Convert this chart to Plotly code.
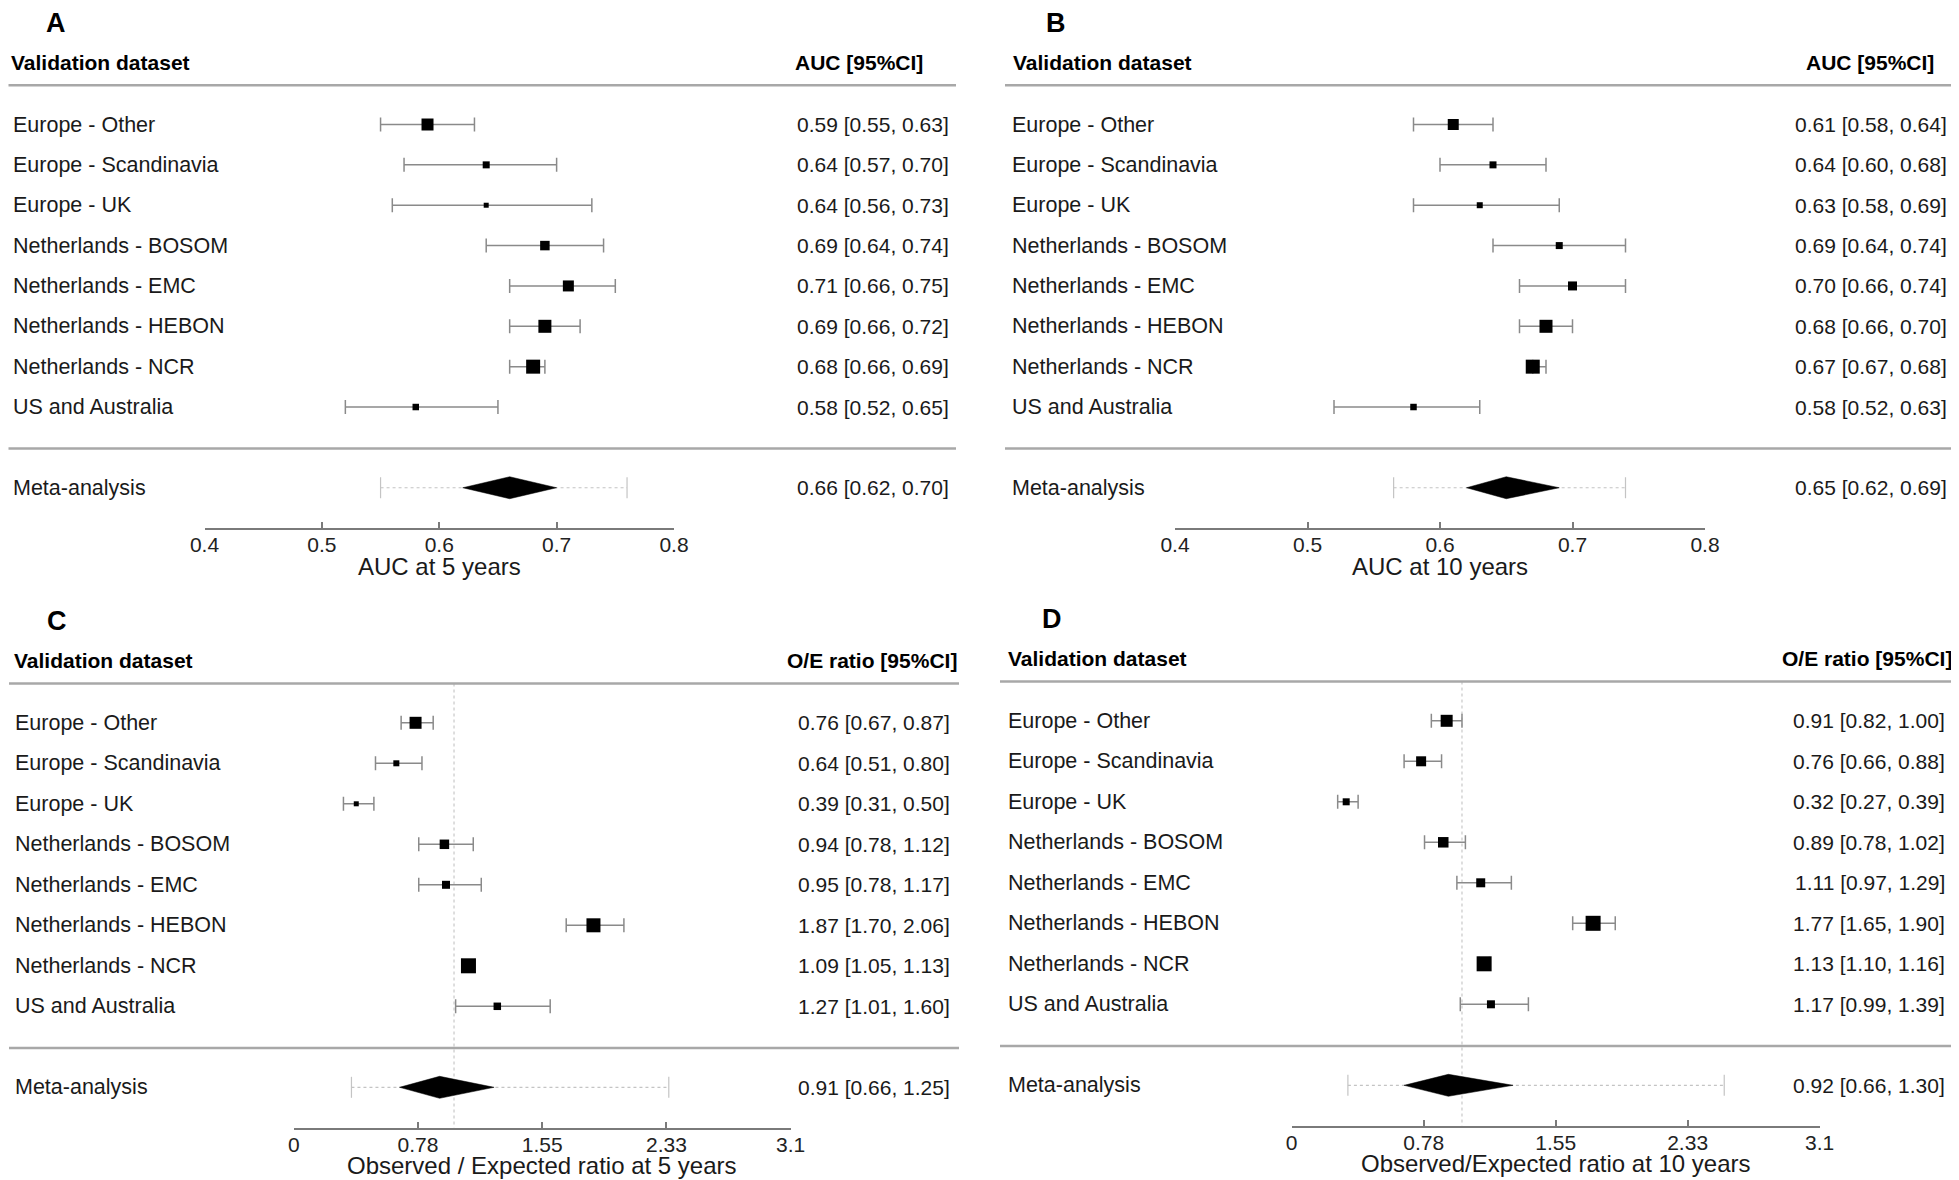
import plotly.graph_objects as go

# ---------------- data ----------------
datasets = ["Europe - Other", "Europe - Scandinavia", "Europe - UK",
            "Netherlands - BOSOM", "Netherlands - EMC", "Netherlands - HEBON",
            "Netherlands - NCR", "US and Australia"]

# A: AUC at 5 years
auc5_est = [0.59, 0.64, 0.64, 0.69, 0.71, 0.69, 0.68, 0.58]
auc5_lo = [0.55, 0.57, 0.56, 0.64, 0.66, 0.66, 0.66, 0.52]
auc5_hi = [0.63, 0.70, 0.73, 0.74, 0.75, 0.72, 0.69, 0.65]
auc5_meta = [0.66, 0.62, 0.70]
auc5_pi = [0.55, 0.76]

# B: AUC at 10 years
auc10_est = [0.61, 0.64, 0.63, 0.69, 0.70, 0.68, 0.67, 0.58]
auc10_lo = [0.58, 0.60, 0.58, 0.64, 0.66, 0.66, 0.67, 0.52]
auc10_hi = [0.64, 0.68, 0.69, 0.74, 0.74, 0.70, 0.68, 0.63]
auc10_meta = [0.65, 0.62, 0.69]
auc10_pi = [0.565, 0.74]

# C: O/E ratio at 5 years
oe5_est = [0.76, 0.64, 0.39, 0.94, 0.95, 1.87, 1.09, 1.27]
oe5_lo = [0.67, 0.51, 0.31, 0.78, 0.78, 1.70, 1.05, 1.01]
oe5_hi = [0.87, 0.80, 0.50, 1.12, 1.17, 2.06, 1.13, 1.60]
oe5_meta = [0.91, 0.66, 1.25]
oe5_pi = [0.36, 2.34]

# D: O/E ratio at 10 years
oe10_est = [0.91, 0.76, 0.32, 0.89, 1.11, 1.77, 1.13, 1.17]
oe10_lo = [0.82, 0.66, 0.27, 0.78, 0.97, 1.65, 1.10, 0.99]
oe10_hi = [1.00, 0.88, 0.39, 1.02, 1.29, 1.90, 1.16, 1.39]
oe10_meta = [0.92, 0.66, 1.30]
oe10_pi = [0.33, 2.54]

auc_ticks = [0.4, 0.5, 0.6, 0.7, 0.8]
auc_ticktext = ["0.4", "0.5", "0.6", "0.7", "0.8"]
oe_ticks = [0, 0.775, 1.55, 2.325, 3.1]
oe_ticktext = ["0", "0.78", "1.55", "2.33", "3.1"]

# square sizes (px), reflecting study weights
sq_A = [12, 7, 5, 9.5, 11, 13, 14, 6.5]
sq_B = [11, 7, 6, 7, 9, 13, 14, 6.5]
sq_C = [12, 6, 5, 9.5, 8, 14, 15, 7.5]
sq_D = [12, 10, 7, 10.5, 9, 15, 15, 8]

# ---------------- layout helpers ----------------
W, H = 1959, 1180
OFF = 8  # page body margin in the browser
FONT = "Liberation Sans, Arial, Helvetica, sans-serif"


def px(x):
    return min(1.0, max(0.0, (x - OFF) / W))


def py(y):
    return min(1.0, max(0.0, 1 - (y - OFF) / H))


panels = [
    dict(letter="A", est=auc5_est, lo=auc5_lo, hi=auc5_hi, meta=auc5_meta, pi=auc5_pi,
         sizes=sq_A, xr=[0.4, 0.8], tv=auc_ticks, tt=auc_ticktext, ax=(204.5, 674),
         y0=124.5, dy=40.36, lab_x=11, head_x=8.5, val_r=951, head_r=925,
         line=(8.5, 956), letter_x=45, title="AUC at 5 years", head_right="AUC [95%CI]", ref=None),
    dict(letter="B", est=auc10_est, lo=auc10_lo, hi=auc10_hi, meta=auc10_meta, pi=auc10_pi,
         sizes=sq_B, xr=[0.4, 0.8], tv=auc_ticks, tt=auc_ticktext, ax=(1175, 1705),
         y0=124.5, dy=40.36, lab_x=1010, head_x=1011, val_r=1949, head_r=1936,
         line=(1005, 1955), letter_x=1045, title="AUC at 10 years", head_right="AUC [95%CI]", ref=None),
    dict(letter="C", est=oe5_est, lo=oe5_lo, hi=oe5_hi, meta=oe5_meta, pi=oe5_pi,
         sizes=sq_C, xr=[0, 3.1], tv=oe_ticks, tt=oe_ticktext, ax=(293.75, 790.6),
         y0=722.8, dy=40.5, lab_x=12.5, head_x=11.5, val_r=952, head_r=958.5,
         line=(9, 959), letter_x=46, title="Observed / Expected ratio at 5 years",
         head_right="O/E ratio [95%CI]", ref=1),
    dict(letter="D", est=oe10_est, lo=oe10_lo, hi=oe10_hi, meta=oe10_meta, pi=oe10_pi,
         sizes=sq_D, xr=[0, 3.1], tv=oe_ticks, tt=oe_ticktext, ax=(1291.7, 1819.6),
         y0=720.8, dy=40.5, lab_x=1006, head_x=1006, val_r=1947, head_r=1954,
         line=(1000, 1954), letter_x=1041, title="Observed/Expected ratio at 10 years",
         head_right="O/E ratio [95%CI]", ref=1),
]

fig = go.Figure()
annotations = []
shapes = []
layout_axes = {}

LINE_GRAY = "#a8a8a8"
CI_GRAY = "#8a8a8a"
PI_GRAY = "#c4c4c4"
TOP_K = -2.8

for i, p in enumerate(panels):
    n = "" if i == 0 else str(i + 1)
    xa, ya = "x" + n, "y" + n
    y_bottom = p["y0"] + 10 * p["dy"]
    y_top = p["y0"] + TOP_K * p["dy"]
    layout_axes["xaxis" + n] = dict(
        domain=[px(p["ax"][0]), px(p["ax"][1])], range=p["xr"], anchor=ya,
        showgrid=False, zeroline=False, showline=True, linecolor="#7a7a7a", linewidth=1.5,
        ticks="inside", ticklen=6, tickwidth=1.5, tickcolor="#7a7a7a",
        tickvals=p["tv"], ticktext=p["tt"], automargin=False, ticklabelstandoff=-3,
        tickfont=dict(family=FONT, size=21, color="#222222"), fixedrange=True,
    )
    layout_axes["yaxis" + n] = dict(
        domain=[py(y_bottom), py(y_top)], range=[10, TOP_K], anchor=xa,
        visible=False, showgrid=False, zeroline=False, fixedrange=True, automargin=False,
    )

    rows = list(range(len(datasets)))
    meta_row = 9

    # prediction interval (dotted) with end caps
    fig.add_trace(go.Scatter(x=p["pi"], y=[meta_row, meta_row], xaxis=xa, yaxis=ya,
                             mode="lines", line=dict(color=PI_GRAY, width=1.2, dash="dot"),
                             hoverinfo="skip", cliponaxis=False))
    fig.add_trace(go.Scatter(x=p["pi"], y=[meta_row, meta_row], xaxis=xa, yaxis=ya,
                             mode="markers",
                             marker=dict(symbol="line-ns", size=15,
                                         line=dict(color=PI_GRAY, width=1.2)),
                             hoverinfo="skip", cliponaxis=False))
    # summary diamond
    m_est, m_lo, m_hi = p["meta"]
    h = 11 / p["dy"]
    fig.add_trace(go.Scatter(x=[m_lo, m_est, m_hi, m_est, m_lo],
                             y=[meta_row, meta_row - h, meta_row, meta_row + h, meta_row],
                             xaxis=xa, yaxis=ya, mode="lines", fill="toself",
                             fillcolor="black", line=dict(color="black", width=0.5),
                             hoverinfo="skip", cliponaxis=False))
    # study CIs (drawn first so the squares sit on top)
    fig.add_trace(go.Scatter(
        x=p["est"], y=rows, xaxis=xa, yaxis=ya, mode="markers",
        marker=dict(size=1, color="rgba(0,0,0,0)"),
        error_x=dict(type="data", symmetric=False,
                     array=[hi - e for hi, e in zip(p["hi"], p["est"])],
                     arrayminus=[e - lo for e, lo in zip(p["est"], p["lo"])],
                     color=CI_GRAY, thickness=1.5, width=7),
        hoverinfo="skip", cliponaxis=False))
    # study estimates
    fig.add_trace(go.Scatter(
        x=p["est"], y=rows, xaxis=xa, yaxis=ya, mode="markers",
        marker=dict(symbol="square", size=p["sizes"], color="black", opacity=1,
                    line=dict(width=0)),
        hoverinfo="skip", cliponaxis=False))

    # reference line at 1
    if p["ref"] is not None:
        shapes.append(dict(type="line", xref=xa, yref=ya, x0=p["ref"], x1=p["ref"],
                           y0=-0.97, y1=10, line=dict(color="#bdbdbd", width=1, dash="dot"),
                           layer="below"))

    # separator lines
    for yk in (-0.97, 8.03):
        shapes.append(dict(type="line", xref="paper", yref=ya,
                           x0=px(p["line"][0]), x1=px(p["line"][1]), y0=yk, y1=yk,
                           line=dict(color=LINE_GRAY, width=2.5)))

    # panel letter
    annotations.append(dict(text="<b>" + p["letter"] + "</b>", xref="paper", yref=ya,
                            x=px(p["letter_x"]), y=-2.52, xanchor="left", yanchor="middle",
                            showarrow=False, borderpad=0,
                            font=dict(family=FONT, size=27, color="black")))
    # headers
    annotations.append(dict(text="<b>Validation dataset</b>", xref="paper", yref=ya,
                            x=px(p["head_x"]), y=-1.53, xanchor="left", yanchor="middle",
                            showarrow=False, font=dict(family=FONT, size=21, color="black")))
    annotations.append(dict(text="<b>" + p["head_right"] + "</b>", xref="paper", yref=ya,
                            x=px(p["head_r"]), y=-1.53, xanchor="right", yanchor="middle",
                            showarrow=False, font=dict(family=FONT, size=21, color="black")))
    # row labels and values
    for k, name in enumerate(datasets):
        annotations.append(dict(text=name, xref="paper", yref=ya, x=px(p["lab_x"]), y=k,
                                xanchor="left", yanchor="middle", showarrow=False,
                                font=dict(family=FONT, size=21.5, color="#1a1a1a")))
        annotations.append(dict(text=f"{p['est'][k]:.2f} [{p['lo'][k]:.2f}, {p['hi'][k]:.2f}]",
                                xref="paper", yref=ya, x=px(p["val_r"]), y=k,
                                xanchor="right", yanchor="middle", showarrow=False,
                                font=dict(family=FONT, size=21, color="#1a1a1a")))
    annotations.append(dict(text="Meta-analysis", xref="paper", yref=ya, x=px(p["lab_x"]),
                            y=meta_row, xanchor="left", yanchor="middle", showarrow=False,
                            font=dict(family=FONT, size=21.5, color="#1a1a1a")))
    annotations.append(dict(text=f"{m_est:.2f} [{m_lo:.2f}, {m_hi:.2f}]", xref="paper", yref=ya,
                            x=px(p["val_r"]), y=meta_row, xanchor="right", yanchor="middle",
                            showarrow=False, font=dict(family=FONT, size=21, color="#1a1a1a")))
    # axis title
    annotations.append(dict(text=p["title"], xref="paper", yref="paper",
                            x=px((p["ax"][0] + p["ax"][1]) / 2), y=py(y_bottom + 38),
                            xanchor="center", yanchor="middle", showarrow=False, borderpad=0,
                            font=dict(family=FONT, size=24, color="#1a1a1a")))

fig.update_layout(
    width=W, height=H, margin=dict(l=0, r=0, t=0, b=0, pad=0), autosize=False,
    paper_bgcolor="white", plot_bgcolor="white", showlegend=False,
    annotations=annotations, shapes=shapes, **layout_axes,
)

fig.write_html("out.html")
